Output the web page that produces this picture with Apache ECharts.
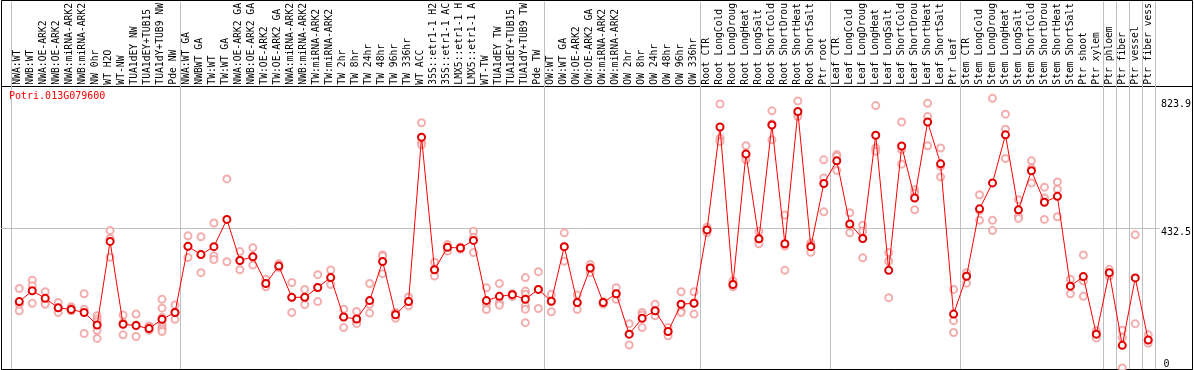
<!DOCTYPE html>
<html><head><meta charset="utf-8">
<script src="https://cdn.jsdelivr.net/npm/echarts@6/dist/echarts.min.js"></script>
<style>html,body{margin:0;padding:0;background:#fff}#c{width:1194px;height:370px}</style>
</head><body><div id="c"></div>
<script>
const geneTitle = 'Potri.013G079600';

const categories = [
  'NWA:WT','NWB:WT','NWA:OE-ARK2','NWB:OE-ARK2','NWA:miRNA-ARK2','NWB:miRNA-ARK2','NW 0hr','WT H2O','WT-NW',
  'TUA1dEY NW','TUA1dEY+TUB15','TUA1dY+TUB9 NW','Pde NW',
  'NWA:WT GA','NWBWT GA','TW:WT','TW:WT GA','NWA:OE-ARK2 GA','NWB:OE-ARK2 GA','TW:OE-ARK2','TW:OE-ARK2 GA',
  'NWA:miRNA-ARK2','NWB:miRNA-ARK2','TW:miRNA-ARK2','TW:miRNA-ARK2','TW 2hr','TW 8hr','TW 24hr','TW 48hr',
  'TW 96hr','TW 336hr','WT ACC','35S::etr1-1 H2','35S::etr1-1 AC','LMX5::etr1-1 H','LMX5::etr1-1 A','WT-TW',
  'TUA1dEY TW','TUA1dEY+TUB15','TUA1dY+TUB9 TW','Pde TW',
  'OW:WT','OW:WT GA','OW:OE-ARK2','OW:OE-ARK2 GA','OW:miRNA-ARK2','OW:miRNA-ARK2','OW 2hr','OW 8hr','OW 24hr',
  'OW 48hr','OW 96hr','OW 336hr',
  'Root CTR','Root LongCold','Root LongDroug','Root LongHeat','Root LongSalt','Root ShortCold','Root ShortDrou',
  'Root ShortHeat','Root ShortSalt','Ptr root',
  'Leaf CTR','Leaf LongCold','Leaf LongDroug','Leaf LongHeat','Leaf LongSalt','Leaf ShortCold','Leaf ShortDrou',
  'Leaf ShortHeat','Leaf ShortSalt','Ptr leaf',
  'Stem CTR','Stem LongCold','Stem LongDroug','Stem LongHeat','Stem LongSalt','Stem ShortCold','Stem ShortDrou',
  'Stem ShortHeat','Stem ShortSalt','Ptr shoot','Ptr xylem',
  'Ptr phloem','Ptr fiber','Ptr vessel','Ptr fiber vess'
];

const means = [
  208,241,218,189,184,175,137,391,139,135,126,154,175,
  376,351,375,458,333,344,263,316,221,221,251,281,161,155,211,330,168,208,708,305,373,371,394,211,224,229,215,245,
  209,375,205,310,205,232,109,157,180,117,200,203,
  426,739,260,657,399,745,384,786,375,567,
  636,444,400,714,303,681,523,754,627,170,
  285,490,569,715,487,606,510,528,255,284,109,
  296,75,280,91
];

const replicates = [
  [248,200,180],[273,256,203],[238,205,200],[205,188,175],[192,188,180],[232,185,111],[165,155,147,121,96],
  [424,400,343],[167,144,107],[170,137,102],[134,131,121],[215,188,160,141,131,124,117],[198,175,154],
  [408,376,342],[405,351,296],[447,347,336],[581,329],[360,333,305],[372,344,319],[276,263,253],[323,311],
  [266,221,175],[245,221,199],[290,251,208],[304,281,260],[185,161,129],[178,146,141],[263,200,173],
  [350,347,293],[175,172,157],[222,208,195],[752,693,685],[328,305,286],[382,373,362],[374,371,367],
  [422,403,357],[250,200,184],[263,205,197],[232,229,223],[281,240,230,195,185,144],[299,245,187],
  [230,209,177],[417,375,331],[228,205,184],[321,310,296],[208,205,200],[250,232,215],[141,109,76],
  [175,167,129],[200,180,165],[129,117,104],[238,180,175],[238,203,170],
  [434,426,417],[809,705,695],[271,260,253],[682,650,639],[422,397,384],[788,748,700],[471,377,303],
  [818,778,771],[387,380,358],[639,584,481],
  [655,650,607],[478,437,417],[440,422,341],[804,675,665],[357,331,220],[754,670,626],[548,538,487],
  [811,771,682],[675,619,587],[245,150,114],
  [296,285,264],[533,485,455],[826,455,424],[778,732,643],[518,468,461],[636,614,569],[556,523,458],
  [572,550,466],[276,255,232],[350,271,224],[119,109,97],
  [306,296,286],[121,99,6],[411,141],[107,91,81]
];

// first category index of each sample group (vertical separators)
const groupStarts = [0, 13, 41, 53, 63, 73, 84, 85, 86, 87];
const yLabelValues = [432.5, 823.9];
const yZeroLabel = [0];
const yGridValues = [432.5];

const chart = echarts.init(document.getElementById('c'));
const mono = 'DejaVu Sans Mono';
const X_MIN = -1.4077, X_MAX = 87.9, Y_MAX = 863.6;

const meanData = means.map((v, i) => [i, v]);
const repData = [];
replicates.forEach((arr, i) => arr.forEach(v => repData.push([i, v])));

chart.setOption({
  animation: false,
  title: {
    text: geneTitle, left: 9, top: 91, padding: 0,
    textStyle: { color: '#ff0000', fontFamily: mono, fontSize: 10, fontWeight: 'normal' }
  },
  grid: [
    { left: 1, right: 32, top: 86, bottom: -1 },
    { left: 11.3, width: 1144, top: 0, bottom: 1 },
    { left: 1.5, right: 1.5, top: 0.5, bottom: 0.5, show: true, borderColor: '#000', borderWidth: 1, backgroundColor: 'transparent' },
    { left: 1.5, right: 1.5, top: 86.5, bottom: 0.5, show: true, borderColor: '#000', borderWidth: 1, backgroundColor: 'transparent' }
  ],
  xAxis: [
    { type: 'value', gridIndex: 0, min: X_MIN, max: X_MAX, show: false },
    {
      type: 'category', gridIndex: 1, data: categories, position: 'top', offset: -86,
      axisLine: { show: false }, axisTick: { show: false },
      axisLabel: { interval: 0, rotate: 90, margin: 3, fontFamily: mono, fontSize: 9.7, color: '#000' },
      splitLine: { show: true, interval: (i) => groupStarts.includes(i), lineStyle: { color: '#c0c0c0', width: 1 } }
    },
    { type: 'value', gridIndex: 2, show: false },
    { type: 'value', gridIndex: 3, show: false }
  ],
  yAxis: [
    {
      type: 'value', gridIndex: 0, min: 0, max: Y_MAX, position: 'right',
      axisLine: { show: false },
      axisTick: { show: false, customValues: yGridValues },
      splitLine: { show: true, lineStyle: { color: '#c0c0c0', width: 1 } },
      axisLabel: { customValues: yLabelValues, margin: 1, align: 'left', verticalAlign: 'top',
        fontFamily: mono, fontSize: 10, color: '#000', formatter: v => String(v) }
    },
    { type: 'value', gridIndex: 1, show: false },
    { type: 'value', gridIndex: 2, show: false },
    {
      type: 'value', gridIndex: 3, min: 0, max: Y_MAX, position: 'right',
      axisLine: { show: false }, axisTick: { show: false }, splitLine: { show: false },
      axisLabel: { customValues: yZeroLabel, inside: true, margin: 29, align: 'left', verticalAlign: 'bottom',
        fontFamily: mono, fontSize: 10, color: '#000', formatter: v => String(v) }
    }
  ],
  series: [
    {
      type: 'scatter', xAxisIndex: 0, yAxisIndex: 0, data: repData,
      symbol: 'emptyCircle', symbolSize: 7, z: 2,
      itemStyle: { color: '#f09a9a', borderColor: '#f09a9a', borderWidth: 1.1 }
    },
    {
      type: 'line', xAxisIndex: 0, yAxisIndex: 0, data: meanData,
      symbol: 'emptyCircle', symbolSize: 7, z: 3,
      lineStyle: { color: '#ff0000', width: 1 },
      itemStyle: { color: '#e00000', borderColor: '#cc0000', borderWidth: 1.6 }
    }
  ]
});
</script>
</body></html>
